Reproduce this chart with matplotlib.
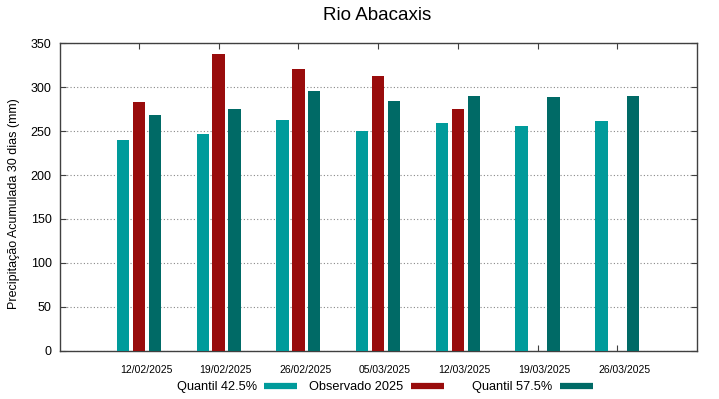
import numpy as np
import matplotlib
matplotlib.use("Agg")
import matplotlib.pyplot as plt
import matplotlib.transforms as mtransforms
from matplotlib.lines import Line2D

plt.rcParams['font.family'] = ['Liberation Sans', 'DejaVu Sans']

# data
dates = ['12/02/2025', '19/02/2025', '26/02/2025', '05/03/2025',
         '12/03/2025', '19/03/2025', '26/03/2025']
q425 = [240, 247, 263, 250, 259, 256, 262]
obs2025 = [283, 338, 321, 313, 275, np.nan, np.nan]
q575 = [268, 275, 296, 284, 290, 289, 290]

labels = ['Quantil 42.5%', 'Observado 2025', 'Quantil 57.5%']
colors = ['#009b9b', '#990c0c', '#006a66']

fig = plt.figure(figsize=(7.19, 3.99), dpi=100)
ax = fig.add_axes([0.0834, 0.121, 0.886, 0.7705])

x = np.arange(len(dates))
width = 0.155
for k, (vals, c) in enumerate(zip([q425, obs2025, q575], colors)):
    ax.bar(x + (k - 1) * 0.2, vals, width, color=c, zorder=3)

ax.set_xlim(-0.99, 7.0)
ax.set_ylim(0, 350)
ax.set_yticks(np.arange(0, 351, 50))
ax.set_xticks(x)
ax.set_xticklabels(dates, fontsize=7.5)
ax.tick_params(axis='y', labelsize=9, direction='in', length=4,
               right=True, pad=6, color='#404040')
ax.tick_params(axis='x', direction='in', length=4, top=True, pad=10,
               color='#404040')
ax.yaxis.grid(True, color='#888888', linestyle=(0, (1, 2)), linewidth=0.8,
              zorder=0)
for s in ax.spines.values():
    s.set_color('#404040')
    s.set_linewidth(1.0)

# gnuplot puts the date labels a little to the right of the ticks
shift = mtransforms.ScaledTranslation(0.07, 0, fig.dpi_scale_trans)
for lab in ax.get_xticklabels():
    lab.set_transform(lab.get_transform() + shift)

ax.set_ylabel('Precipitação Acumulada 30 dias (mm)', fontsize=9)
ax.yaxis.set_label_coords(-0.062, 0.477)
fig.text(0.525, 0.962, 'Rio Abacaxis', fontsize=13.5, ha='center', va='center')

# gnuplot-like legend: text first, sample after
legend_x = [0.2458, 0.4298, 0.6569]
for lab, c, lx in zip(labels, colors, legend_x):
    h = Line2D([], [], color=c, linewidth=4.5, solid_capstyle='butt')
    fig.legend(handles=[h], labels=[lab], loc='center left',
               bbox_to_anchor=(lx, 0.03), frameon=False, markerfirst=False,
               fontsize=9.2, handlelength=2.58, handletextpad=0.57,
               borderpad=0, borderaxespad=0)

fig.savefig('out.png', dpi=100)
